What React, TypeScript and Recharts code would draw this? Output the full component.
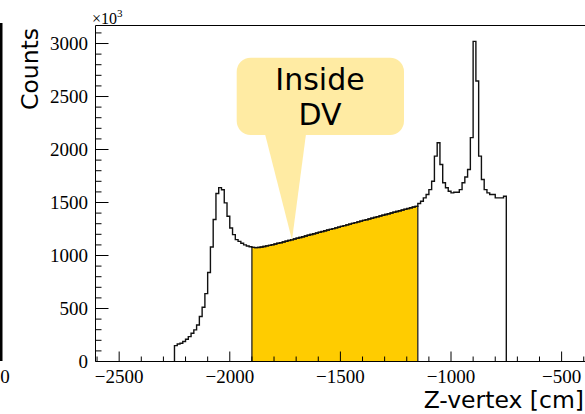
import React from 'react';
import { ComposedChart, Line, Area, XAxis, YAxis, ReferenceLine } from 'recharts';

// Z-vertex histogram, counts in units of 10^3 per 12.5 cm bin
const binLow = -2250;
const binWidth = 12.5;
const counts = [
  150, 165, 172, 188, 210, 235, 267, 298, 345, 424,
  512, 640, 840, 1080, 1339, 1585, 1640, 1620, 1497, 1370,
  1260, 1197, 1150, 1133, 1115, 1100, 1090, 1082,
  // decay volume region
  1077, 1074, 1076, 1080, 1085, 1091, 1096, 1102, 1108, 1115,
  1121, 1128, 1135, 1142, 1149, 1156, 1163, 1170, 1177, 1184,
  1191, 1198, 1205, 1212, 1219, 1226, 1233, 1240, 1247, 1254,
  1261, 1268, 1275, 1282, 1289, 1296, 1303, 1310, 1317, 1324,
  1331, 1338, 1345, 1352, 1359, 1366, 1373, 1380, 1387, 1394,
  1401, 1408, 1415, 1422, 1429, 1436, 1443, 1450, 1457, 1464,
  // downstream
  1490, 1512, 1544, 1575, 1622, 1701, 1938, 2064, 1859, 1686,
  1639, 1606, 1591, 1597, 1597, 1622, 1686, 1740, 1812, 2112,
  3020, 2647, 1938, 1717, 1622, 1591, 1575, 1575, 1544, 1544,
  1544, 1559,
];
const dvFirstBin = 28; // -1900 cm
const dvEndBin = 88; // -1150 cm

const xTickLabels = [-2500, -2000, -1500, -1000, -500];
const yTickLabels = [0, 500, 1000, 1500, 2000, 2500, 3000];

const W = 600;
const H = 414;
const LEFT = 95.5;
const TOP = 25.5;
const BOTTOM = 361.5;
const X_MIN = -2607;
const X_MAX = -350;
const Y_MAX = 3170;
const Y_AXIS_W = 40;
const X_AXIS_H = 30;

const edge = (i: number) => binLow + i * binWidth;

// step outline closed down to zero at both ends
const makeSteps = (from: number, to: number) => {
  const pts = [{ x: edge(from), y: 0 }];
  for (let i = from; i < to; i++) pts.push({ x: edge(i), y: counts[i] });
  pts.push({ x: edge(to), y: counts[to - 1] });
  pts.push({ x: edge(to), y: 0 });
  return pts;
};

const outline = makeSteps(0, counts.length);
const dvFill = makeSteps(dvFirstBin, dvEndBin);

const xTicks: number[] = [];
for (let v = -2600; v <= -400; v += 100) xTicks.push(v);
const yTicks: number[] = [];
for (let v = 0; v <= 3100; v += 100) yTicks.push(v);

const fmt = (v: number) => (v < 0 ? '\u2212' + Math.abs(v) : String(v));
const serif = '"Liberation Serif", "Times New Roman", serif';
const sans = '"DejaVu Sans", sans-serif';

const XTick = (props: any) => {
  const { x, payload } = props;
  const v = payload.value;
  const major = xTickLabels.includes(v);
  return (
    <g>
      <line x1={x} x2={x} y1={BOTTOM} y2={BOTTOM - (major ? 10 : 5)} stroke="#000" strokeWidth={1} />
      {major && (
        <text x={x} y={383} textAnchor="middle" fontFamily={serif} fontSize={19} fill="#000">
          {fmt(v)}
        </text>
      )}
    </g>
  );
};

const YTick = (props: any) => {
  const { y, payload } = props;
  const v = payload.value;
  const major = yTickLabels.includes(v);
  return (
    <g>
      <line x1={LEFT} x2={LEFT + (major ? 13 : 6)} y1={y} y2={y} stroke="#000" strokeWidth={1} />
      {major && (
        <text x={88} y={y + 6.4} textAnchor="end" fontFamily={serif} fontSize={19} fill="#000">
          {fmt(v)}
        </text>
      )}
    </g>
  );
};

export default function App() {
  return (
    <div style={{ position: 'fixed', left: 0, top: 0, width: 585, height: 414, overflow: 'hidden', background: '#fff' }}>
      <ComposedChart
        width={W}
        height={H}
        margin={{ top: TOP, left: LEFT - Y_AXIS_W, right: 5.2, bottom: H - BOTTOM - X_AXIS_H }}
      >
        <XAxis
          dataKey="x"
          type="number"
          domain={[X_MIN, X_MAX]}
          allowDataOverflow
          ticks={xTicks}
          interval={0}
          tick={<XTick />}
          tickLine={false}
          height={X_AXIS_H}
          axisLine={{ stroke: '#000', strokeWidth: 1 }}
        />
        <YAxis
          type="number"
          domain={[0, Y_MAX]}
          allowDataOverflow
          ticks={yTicks}
          interval={0}
          tick={<YTick />}
          tickLine={false}
          width={Y_AXIS_W}
          axisLine={{ stroke: '#000', strokeWidth: 1 }}
        />
        <ReferenceLine y={Y_MAX} stroke="#000" strokeWidth={1} />
        <Line
          data={outline}
          dataKey="y"
          type="stepAfter"
          stroke="#111"
          strokeWidth={1.4}
          dot={false}
          isAnimationActive={false}
        />
        <Area
          data={dvFill}
          dataKey="y"
          type="stepAfter"
          fill="#FFCC00"
          fillOpacity={1}
          stroke="#222"
          strokeWidth={1.3}
          baseValue={0}
          isAnimationActive={false}
        />
      </ComposedChart>
      <svg width={585} height={414} style={{ position: 'absolute', left: 0, top: 0, pointerEvents: 'none' }}>
        {/* edge of the neighbouring pad */}
        <rect x={0} y={23} width={2.5} height={338} fill="#000" />
        <text x={5} y={383} textAnchor="middle" fontFamily={serif} fontSize={19} fill="#000">0</text>

        <text x={92} y={24} fontFamily={serif} fontSize={16} fill="#000">
          {'\u00d710'}
          <tspan dy={-7} fontSize={11}>3</tspan>
        </text>
        <text transform="translate(38,69) rotate(-90)" textAnchor="middle" fontFamily={sans} fontSize={23.5} fill="#000">
          Counts
        </text>
        <text x={584} y={408} textAnchor="end" fontFamily={sans} fontSize={23.5} fill="#000">
          Z-vertex [cm]
        </text>

        <rect x={236.7} y={57.7} width={167.3} height={77.3} rx={14} ry={14} fill="#FFEBA3" />
        <polygon points="265,134 306,134 292,240" fill="#FFEBA3" />
        <text x={320} y={90} textAnchor="middle" fontFamily={sans} fontSize={30} fill="#000">Inside</text>
        <text x={320} y={125} textAnchor="middle" fontFamily={sans} fontSize={30} fill="#000">DV</text>
      </svg>
    </div>
  );
}
